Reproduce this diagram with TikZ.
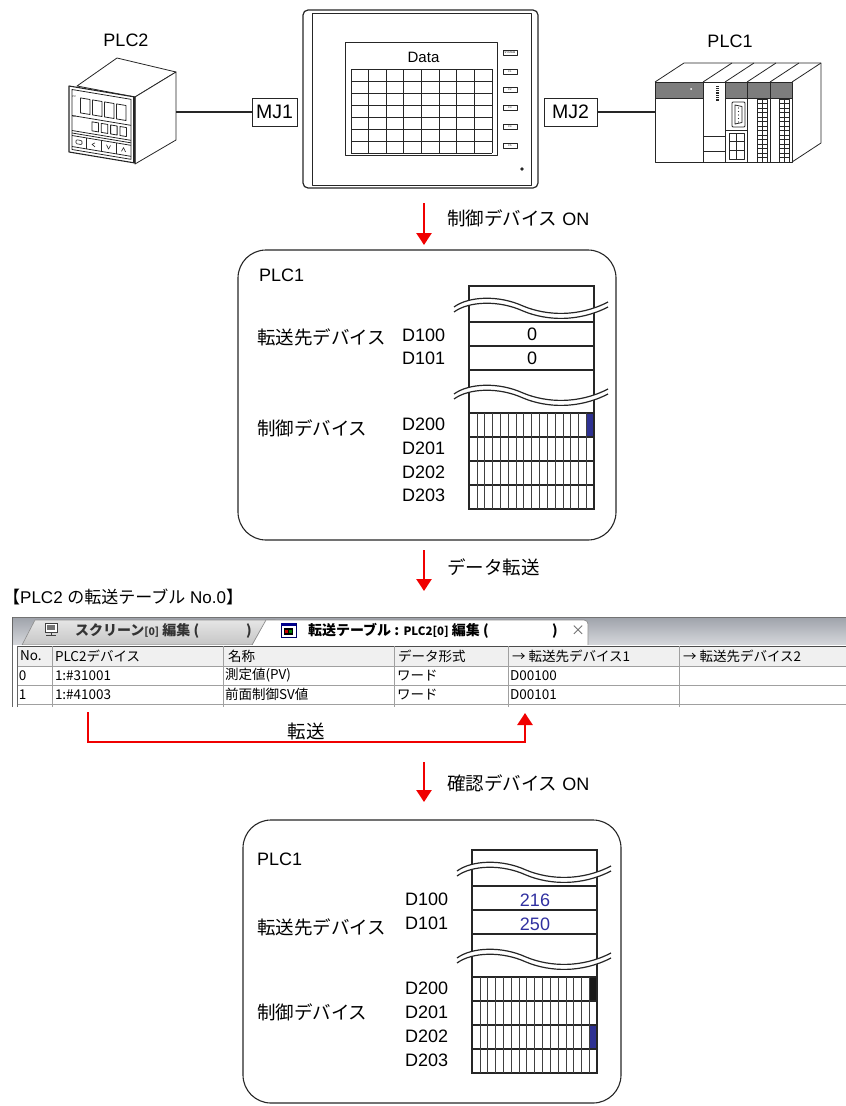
\documentclass[tikz,border=0pt]{standalone}
\usepackage{fontspec}
\setmainfont{Liberation Sans}
\newfontfamily\jpf{Noto Sans CJK JP}
\usetikzlibrary{arrows.meta}

\definecolor{sigred}{RGB}{240,0,0}
\definecolor{bitblue}{RGB}{46,49,146}
\definecolor{valblue}{RGB}{48,48,160}
\definecolor{bandgray}{RGB}{125,125,125}
\definecolor{cellgray}{RGB}{160,160,160}
\definecolor{headgray}{RGB}{240,240,240}
\definecolor{stripdark}{RGB}{158,162,170}
\definecolor{striplight}{RGB}{214,216,220}

\newcommand\jtext[1]{{\jpf\fontsize{18.5}{20}\selectfont #1}}

\tikzset{
  txt/.style={inner sep=0pt, outer sep=0pt, font=\fontsize{18}{20}\selectfont},
  jtxt/.style={inner sep=0pt, outer sep=0pt, font=\jpf\fontsize{18.5}{20}\selectfont},
  tcell/.style={inner sep=0pt, outer sep=0pt, anchor=west, font=\jpf\fontsize{13.5}{14}\selectfont},
  tabtxt/.style={inner sep=0pt, outer sep=0pt, anchor=west, font=\jpf\bfseries\fontsize{14}{15}\selectfont},
  tinytxt/.style={inner sep=0pt, outer sep=0pt, font=\fontsize{2.6}{3}\selectfont},
  dev/.style={draw=black!85, line width=0.8pt, line join=round},
  flow/.style={draw=sigred, line width=2.5pt, -{Triangle[width=15pt,length=12pt]}},
  plcbox/.style={draw=black!85, line width=1.1pt, rounded corners=28pt, inner sep=0pt, outer sep=0pt},
  memline/.style={draw=black!85, line width=1.2pt},
  bitline/.style={draw=black!75, line width=0.5pt},
  tline/.style={draw=cellgray, line width=0.8pt},
  memcol/.pic={
    \draw[memline] (0,0) rectangle (125,223);
    \foreach \yy in {36,60,84,127,151,175,199} \draw[memline] (0,\yy) -- (125,\yy);
    \foreach \i in {1,...,15} \draw[bitline] ({\i*125/16},127) -- ({\i*125/16},223);
    \foreach \w in {19,106} {
      \fill[white] (-15,\w+2) .. controls (0,\w-9) and (30,\w-10) .. (54,\w+1)
          .. controls (78,\w+11) and (110,\w+12) .. (139,\w-3)
          -- (139,\w+2) .. controls (110,\w+17) and (78,\w+16) .. (54,\w+6)
          .. controls (30,\w-5) and (0,\w-4) .. (-15,\w+7) -- cycle;
      \draw[memline] (-15,\w+2) .. controls (0,\w-9) and (30,\w-10) .. (54,\w+1)
          .. controls (78,\w+11) and (110,\w+12) .. (139,\w-3);
      \draw[memline] (-15,\w+7) .. controls (0,\w-4) and (30,\w-5) .. (54,\w+6)
          .. controls (78,\w+16) and (110,\w+17) .. (139,\w+2);
    }
  }
}

\begin{document}
\begin{tikzpicture}[x=1pt,y=-1pt]
\useasboundingbox (0,0) rectangle (846,1106);

% ---------------- PLC2 (temperature controller) ----------------
\node[txt] (plc2lbl) at (126,40) {PLC2};
\draw[dev, fill=white] (77,86) -- (117,58) -- (176,72) -- (135,97) -- cycle;
\draw[dev, fill=white] (135,97) -- (176,72) -- (176,140) -- (135,164) -- cycle;
\begin{scope}[shift={(69,86)}, yslant=-0.1667]
  \draw[dev, fill=white, line width=1.1pt] (0,0) rectangle (66,66);
  \draw[dev, line width=1.8pt] (65,0) -- (65,66);
  \draw[dev] (3,3) rectangle (62,63);
  \foreach \k in {0,...,3} \draw[dev] ({11.5+12*\k},10) rectangle ({21+12*\k},25);
  \draw[dev] (3,29) -- (62,29);
  \foreach \k in {0,...,3} \draw[dev] ({23+9.3*\k},32) rectangle ({29.5+9.3*\k},41);
  \draw[dev] (3,44) -- (62,44);
  \draw[dev] (3,46.5) -- (62,46.5);
  \draw[dev] (3,49) -- (62,49);
  \draw[dev] (3,60) -- (62,60);
  \foreach \u in {17,32,47} \draw[dev] (\u,49) -- (\u,60);
  \draw[dev, line width=0.6pt, rounded corners=1pt] (7,52.5) rectangle (13,56.5);
  \draw[dev, line width=0.6pt] (26,52.5) -- (23,54.5) -- (26,56.5);
  \draw[dev, line width=0.6pt] (37.5,52.5) -- (39.5,56.5) -- (41.5,52.5);
  \draw[dev, line width=0.6pt] (52.5,56.5) -- (54.5,52.5) -- (56.5,56.5);
\end{scope}
\node[tinytxt] (pvlbl) at (74,97) {PV};
\node[tinytxt] (svlbl) at (74,117) {SV};

% ---------------- touch panel ----------------
\node[dev, line width=1.2pt, rounded corners=5pt, minimum width=235pt, minimum height=178pt,
      inner sep=0pt, outer sep=0pt] (hmi) at (420.5,99) {};
\draw[dev] (312,13) rectangle (531,185);
\node[dev, line width=1pt, minimum width=152pt, minimum height=113pt, inner sep=0pt, outer sep=0pt]
      (screen) at (421,98.5) {};
\node[inner sep=0pt, font=\fontsize{15}{16}\selectfont] (datalbl) at (423.5,57) {Data};
\foreach \k in {0,...,8} \draw[dev, line width=0.9pt] ({351+\k*141/8},69) -- ({351+\k*141/8},153);
\foreach \k in {0,...,7} \draw[dev, line width=0.9pt] (351,{69+12*\k}) -- (492,{69+12*\k});
\foreach \yy/\lab [count=\n] in {53/SYSTEM,72/F1,90/F2,108/F3,127/F4,146/F5} {
  \draw[dev, line width=0.6pt] (503,\yy-2.3) rectangle (517,\yy+2.3);
  \node[tinytxt] (fkey\n) at (510,\yy) {\lab};
}
\fill[black!85] (522,169) circle (1.8pt);

% ---------------- PLC1 (rack) ----------------
\node[txt] (plc1lbl) at (730,41) {PLC1};
\fill[bandgray] (655,82) rectangle (703,98);
\fill[bandgray] (725,82) rectangle (792,98);
\draw[dev] (655,82) -- (684,63) -- (821,63) -- (821,143) -- (792,162);
\draw[dev] (792,82) -- (821,63);
\foreach \xx in {703,725,747,770} {
  \draw[dev] (\xx,82) -- (\xx+29,63);
  \draw[dev] (\xx,82) -- (\xx,162);
}
\draw[dev] (655,98) -- (703,98);
\draw[dev] (725,98) -- (792,98);
\draw[dev] (655,82) rectangle (792,162);
\fill[white] (691,89) circle (1pt);
\foreach \k in {0,...,6} \fill[black!85] (716,{85.5+2.3*\k}) rectangle (718.5,{86.8+2.3*\k});
\draw[dev] (703,136) -- (725,136);
\draw[dev] (703,151) -- (725,151);
\draw[dev, rounded corners=1pt] (732,102) rectangle (745,127);
\draw[dev] (735,105) -- (742,106.5) -- (742,122.5) -- (735,124) -- cycle;
\foreach \k in {0,...,4} \fill[black!85] (738.5,{108+3.5*\k}) circle (0.6pt);
\draw[dev] (725,130) -- (747,130);
\draw[dev] (729,133) rectangle (744,159);
\foreach \yy in {141.7,150.3} \draw[dev] (729,\yy) -- (744,\yy);
\draw[dev] (736.5,133) -- (736.5,159);
\foreach \xx in {757,779} {
  \draw[dev] (\xx,99) rectangle (\xx+10,162);
  \draw[dev] (\xx+5,99) -- (\xx+5,162);
  \foreach \k in {1,...,13} \draw[dev, line width=0.5pt] (\xx,{99+4.5*\k}) -- (\xx+10,{99+4.5*\k});
}

% ---------------- links ----------------
\node[draw=black!85, line width=1pt, minimum width=45pt, minimum height=28pt, inner sep=0pt, outer sep=0pt,
      font=\fontsize{19.5}{20}\selectfont] (mj1) at (274.5,112) {MJ1};
\node[draw=black!85, line width=1pt, minimum width=53pt, minimum height=28pt, inner sep=0pt, outer sep=0pt,
      font=\fontsize{19.5}{20}\selectfont] (mj2) at (570.5,112) {MJ2};
\coordinate (plc2port) at (176,112);
\coordinate (plc1port) at (655,112);
\draw[line width=1.8pt, black!85] (plc2port) -- (mj1.west);
\draw[line width=1.8pt, black!85] (mj2.east) -- (plc1port);

% ---------------- PLC1 memory, before ----------------
\node[plcbox, minimum width=378pt, minimum height=290pt] (box1) at (427,395) {};
\coordinate (f1s) at (424,203);
\draw[flow, shorten >=5pt] (f1s) -- (f1s |- box1.north);
\node[anchor=west, txt] (f1lbl) at (447,218) {\jtext{制御デバイス} ON};

\node[txt, anchor=west] (b1plc) at (259,275) {PLC1};
\node[jtxt, anchor=west] (b1dst) at (257,337) {転送先デバイス};
\node[jtxt, anchor=west] (b1ctl) at (257,428) {制御デバイス};
\fill[bitblue] ({469+125*15/16},413) rectangle (594,437);
\pic at (469,286) {memcol};
\foreach \lab/\yy [count=\n] in {D100/335,D101/358,D200/424,D201/448,D202/472,D203/495}
  \node[txt, anchor=west] (b1d\n) at (402,\yy) {\lab};
\node[txt] (b1v0) at (532,334) {0};
\node[txt] (b1v1) at (532,358) {0};

\coordinate (f2e) at (424,591);
\draw[flow, shorten <=10pt] (box1.south -| f1s) -- (f2e);
\node[jtxt, anchor=west] (f2lbl) at (447,567) {データ転送};

% ---------------- transfer table ----------------
\node[anchor=west, inner sep=0pt, font=\fontsize{17}{18}\selectfont] (tblhead) at (3,597)
  {{\jpf 【}PLC2 {\jpf の転送テーブル} No.0{\jpf 】}};

\shade[top color=stripdark, bottom color=striplight] (12,617) rectangle (846,645);
\draw[black!55, line width=0.8pt] (12,617) -- (846,617);
\shade[top color=gray!20, bottom color=gray!45, draw=black!45, line width=0.6pt]
  (22,645) -- (35,620) -- (275,620) -- (262,645) -- cycle;
\fill[white] (252,646) -- (266,620) [rounded corners=4pt] -- (588,620) [sharp corners] -- (588,646) -- cycle;
\draw[black!45, line width=0.7pt] (252,645) -- (266,620) [rounded corners=4pt] -- (588,620) [sharp corners] -- (588,645);
% tab icons
\draw[black!75, line width=0.8pt, fill=white] (45,623) rectangle (57,632);
\fill[black!55] (47,625) rectangle (55,630);
\draw[black!75, line width=0.8pt] (51,632) -- (51,634.5);
\draw[black!75, line width=1.2pt] (46,635.5) -- (56,635.5);
\draw[blue!40!black, line width=0.6pt, fill=white] (281,623) rectangle (296,637);
\fill[blue!55!black] (281,623) rectangle (296,625.5);
\fill[black] (284,628) rectangle (293,635);
\fill[red!80!black] (285,630) rectangle (288,633);
\fill[green!50!black] (289,630) rectangle (292,633);
% tab captions
\node[tabtxt, text=black!80] (tab1txt) at (75,631) {スクリーン{\fontsize{10.5}{12}\selectfont [0]} 編集 (};
\node[tabtxt, text=black!80] (tab1cls) at (246,631) {)};
\node[tabtxt] (tab2txt) at (308,631) {転送テーブル : {\fontsize{11.5}{12}\selectfont PLC2[0]} 編集 (};
\node[tabtxt] (tab2cls) at (552,631) {)};
\node[tcell, font=\jpf\fontsize{14}{14}\selectfont, text=black!60] (tab2x) at (571,631) {×};
% grid
\fill[white] (12,645) rectangle (846,707);
\fill[headgray] (17,646) rectangle (846,666);
\draw[black!60, line width=0.8pt] (12,617) -- (12,707);
\draw[black!70, line width=1pt] (17,646) -- (846,646);
\foreach \yy in {666,685,704} \draw[tline] (17,\yy) -- (846,\yy);
\foreach \xx in {17,52,223,394,508,679} \draw[tline] (\xx,646) -- (\xx,707);
\draw[black!60, line width=0.8pt] (17,646) -- (17,707);
% header and rows
\node[tcell] (h1) at (20,656) {No.};
\node[tcell] (h2) at (55,656) {PLC2デバイス};
\node[tcell] (h3) at (228,656) {名称};
\node[tcell] (h4) at (398,656) {データ形式};
\node[tcell] (h5) at (512,656) {→ 転送先デバイス1};
\node[tcell] (h6) at (683,656) {→ 転送先デバイス2};
\node[tcell] (r0c1) at (19,675.5) {0};
\node[tcell] (r0c2) at (55,675.5) {1:\#31001};
\node[tcell] (r0c3) at (225,675.5) {測定値(PV)};
\node[tcell] (r0c4) at (397,675.5) {ワード};
\node[tcell] (r0c5) at (510,675.5) {D00100};
\node[tcell] (r1c1) at (19,694.5) {1};
\node[tcell] (r1c2) at (55,694.5) {1:\#41003};
\node[tcell] (r1c3) at (225,694.5) {前面制御SV値};
\node[tcell] (r1c4) at (397,694.5) {ワード};
\node[tcell] (r1c5) at (510,694.5) {D00101};

% transfer path
\coordinate (tsrc) at (88,712);
\coordinate (tdst) at (525,713);
\coordinate (tlow) at (0,742);
\draw[flow] (tsrc) -- (tsrc |- tlow) -- (tdst |- tlow) -- (tdst);
\node[jtxt] (tlbl) at (306,731) {転送};

% ---------------- PLC1 memory, after ----------------
\coordinate (f3s) at (424,762);
\node[plcbox, minimum width=378pt, minimum height=283pt] (box2) at (432,961.5) {};
\draw[flow, shorten >=18pt] (f3s) -- (f3s |- box2.north);
\node[anchor=west, txt] (f3lbl) at (447,783) {\jtext{確認デバイス} ON};

\node[txt, anchor=west] (b2plc) at (257,859) {PLC1};
\node[jtxt, anchor=west] (b2dst) at (257,927) {転送先デバイス};
\node[jtxt, anchor=west] (b2ctl) at (257,1012) {制御デバイス};
\fill[black!90] ({472+125*15/16},977) rectangle (597,1001);
\fill[bitblue] ({472+125*15/16},1025) rectangle (597,1049);
\pic at (472,850) {memcol};
\foreach \lab/\yy [count=\n] in {D100/899,D101/923,D200/988,D201/1012,D202/1036,D203/1060}
  \node[txt, anchor=west] (b2d\n) at (405,\yy) {\lab};
\node[txt, text=valblue] (b2v0) at (535,900) {216};
\node[txt, text=valblue] (b2v1) at (535,924) {250};

\end{tikzpicture}
\end{document}
